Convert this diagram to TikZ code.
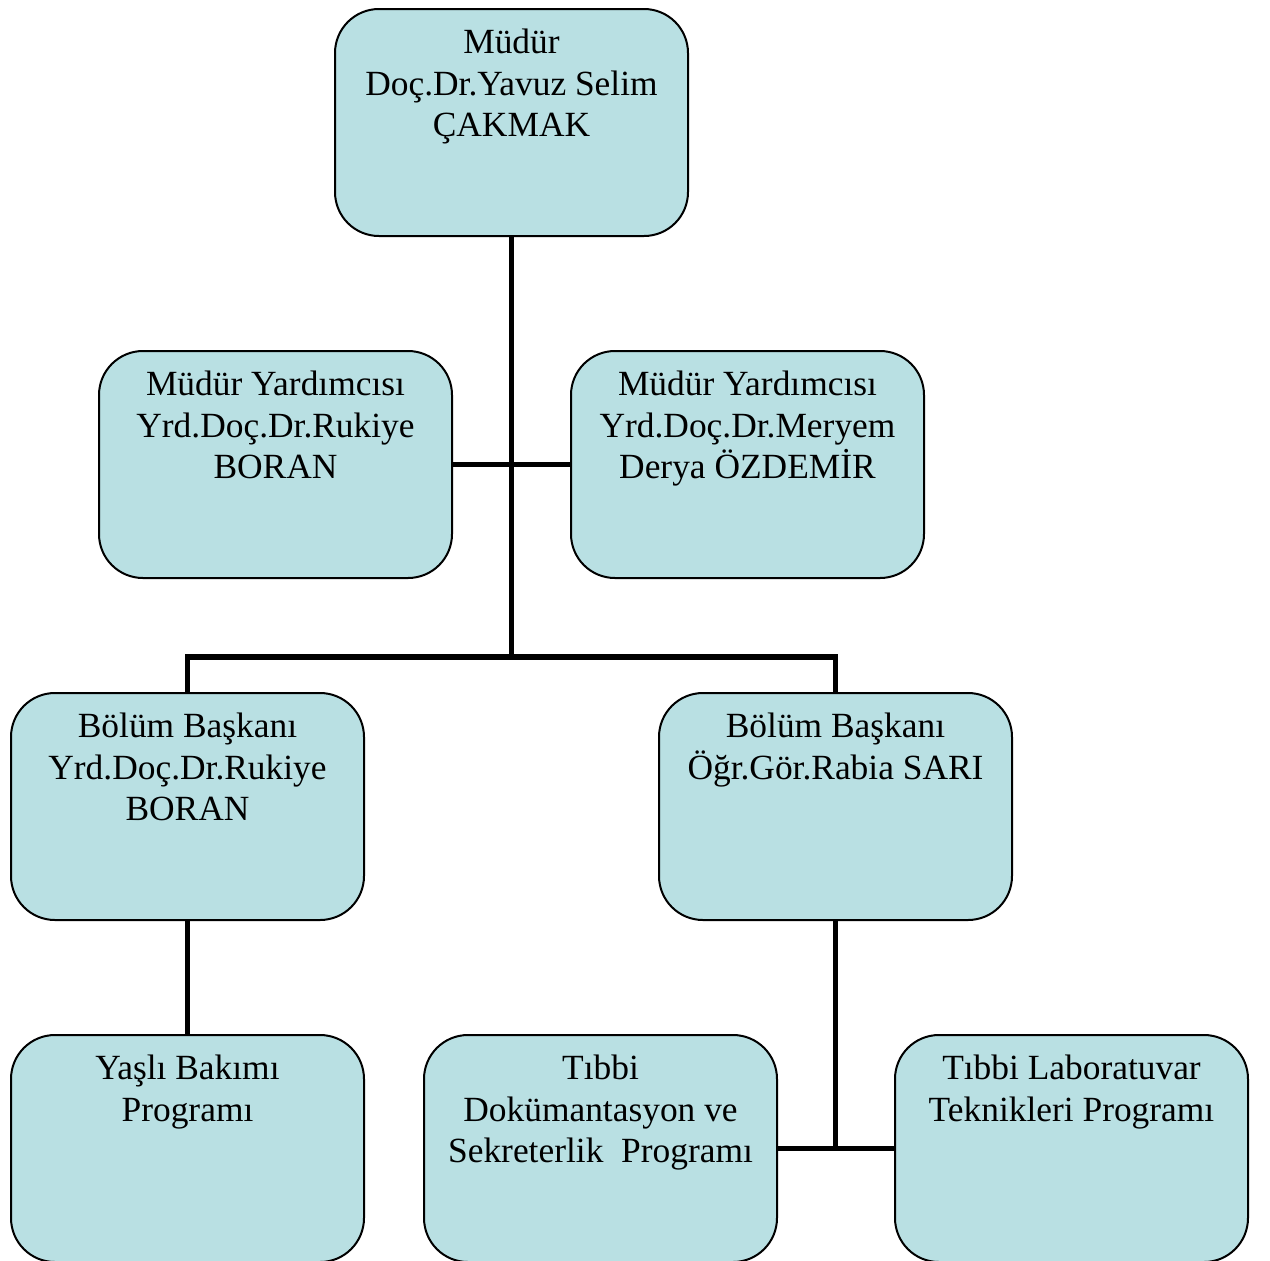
\documentclass[tikz,border=0pt]{standalone}
\usepackage{fontspec}
\setmainfont{Liberation Serif}
\usepackage{tikz}
\usetikzlibrary{positioning}
\definecolor{boxblue}{RGB}{185,224,227}
\tikzstyle{box} = [draw, fill=boxblue, rectangle, rounded corners=22pt,
    line width=1pt, inner xsep=0pt, inner ysep=10pt, anchor=north west]
\tikzstyle{link} = [line width=2.9pt]
\newcommand{\boxtext}[1]{\parbox[t][93.5pt][t]{176.5pt}{\centering\fontsize{17.7}{20.8}\selectfont #1}}

\begin{document}
\begin{tikzpicture}[x=0.5pt, y=-0.5pt]
    \useasboundingbox (0,0) rectangle (1270,1260);
    \node [box] (mudur) at (334,8) {\boxtext{Müdür\\Doç.Dr.Yavuz Selim\\ÇAKMAK}};
    \node [box] (yard1) at (98,350) {\boxtext{Müdür Yardımcısı\\Yrd.Doç.Dr.Rukiye\\BORAN}};
    \node [box] (yard2) at (570,350) {\boxtext{Müdür Yardımcısı\\Yrd.Doç.Dr.Meryem\\Derya ÖZDEMİR}};
    \node [box] (bolum1) at (10,692) {\boxtext{Bölüm Başkanı\\Yrd.Doç.Dr.Rukiye\\BORAN}};
    \node [box] (bolum2) at (658,692) {\boxtext{Bölüm Başkanı\\Öğr.Gör.Rabia SARI}};
    \node [box] (yasli) at (10,1034) {\boxtext{Yaşlı Bakımı\\Programı}};
    \node [box] (dokuman) at (423,1034) {\boxtext{Tıbbi\\Dokümantasyon ve\\Sekreterlik\ \ Programı}};
    \node [box] (labor) at (894,1034) {\boxtext{Tıbbi Laboratuvar\\Teknikleri Programı}};
    \coordinate (bar) at (0,657);
    % connectors
    \draw [link] (mudur.south) -- (mudur.south |- bar);
    \draw [link] (yard1.east) -- (yard2.west);
    \draw [link] (bolum1.north) -- (bolum1.north |- bar) -- (bolum2.north |- bar) -- (bolum2.north);
    \draw [link] (bolum1.south) -- (yasli.north);
    \draw [link] (bolum2.south) -- (bolum2.south |- dokuman.east);
    \draw [link] (dokuman.east) -- (labor.west);
\end{tikzpicture}
\end{document}
